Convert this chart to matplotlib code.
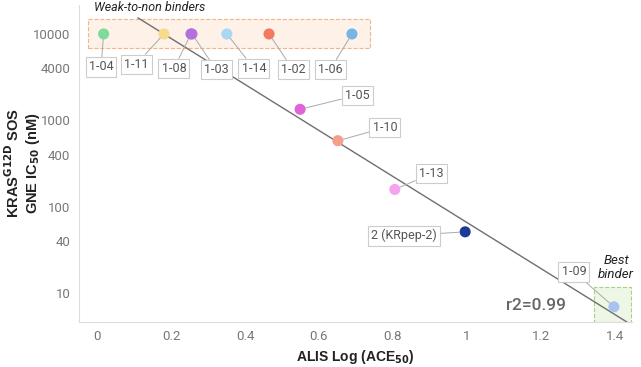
# ALIS Log(ACE50) と KRAS G12D SOS GNE IC50 の関係

import matplotlib
matplotlib.use("Agg")
import matplotlib.pyplot as plt
from matplotlib.patches import Rectangle
import numpy as np

# データ
names = ["1-04", "1-11", "1-03", "1-08", "1-14", "1-02", "1-06",
         "1-05", "1-10", "1-13", "2 (KRpep-2)", "1-09"]
alis = [0.018, 0.181, 0.257, 0.254, 0.351, 0.465, 0.689,
        0.549, 0.651, 0.805, 0.995, 1.397]
ic50 = [10000, 10000, 10000, 10000, 10000, 10000, 10000,
        1340, 580, 158, 51, 6.9]
colors = ["#7fdb9c", "#f6dc8c", "#c07ee0", "#b46ee0", "#a9d8f4", "#f27a5e", "#74b6e6",
          "#e163d9", "#f2a089", "#f5a3ef", "#1d3a99", "#a9c3f1"]
# ラベル位置 (x, IC50)
label_x = [0.011, 0.106, 0.322, 0.208, 0.424, 0.530, 0.630,
           0.703, 0.778, 0.903, 0.830, 1.289]
label_y = [4150, 4450, 3850, 4000, 4000, 3850, 3850,
           1950, 820, 240, 46, 17.5]

# 回帰直線 log10(y) = a*x + b
fit_a, fit_b = -2.667, 4.482
fit_x = [0.111, 1.432]

plt.rcParams["font.family"] = ["Roboto", "DejaVu Sans"]
plt.rcParams["mathtext.fontset"] = "dejavusans"

fig = plt.figure(figsize=(6.41, 3.67), dpi=100)
ax = fig.add_axes([0.123, 0.1226, 0.863, 0.864])
ax.set_yscale("log")
ax.set_xlim(-0.049, 1.446)
ax.set_ylim(4.6, 21700)

# 枠
ax.add_patch(Rectangle((-0.024, 6870), 0.762, 14900 - 6870, fc="#fdf1e8",
                       ec="#f4b48a", ls="--", lw=0.8, zorder=1))
ax.add_patch(Rectangle((1.343, 4.6), 0.1, 11.7 - 4.6, fc="#eef7e6",
                       ec="#a8d08a", ls="--", lw=0.8, zorder=1))

# 回帰直線
fx = np.array(fit_x)
ax.plot(fx, 10 ** (fit_a * fx + fit_b), color="#6f6f6f", lw=1, zorder=2)

ax.scatter(alis, ic50, s=64, c=colors, zorder=3, linewidths=0)

for n, x, y, lx, ly in zip(names, alis, ic50, label_x, label_y):
    ax.annotate(n, xy=(x, y), xytext=(lx, ly), ha="center", va="center",
                fontsize=9, color="#555555", zorder=4,
                bbox=dict(boxstyle="square,pad=0.25", fc="white", ec="#cccccc", lw=0.8),
                arrowprops=dict(arrowstyle="-", color="#aaaaaa", lw=0.7,
                                shrinkA=0, shrinkB=4))

ax.text(0.143, 20000, "Weak-to-non binders", style="italic", fontsize=9,
        ha="center", va="center", color="#222222", clip_on=False)
ax.text(1.403, 19.6, "Best\nbinder", style="italic", fontsize=9.5, ha="center",
        va="center", color="#222222", linespacing=1.1)
ax.text(1.187, 7.1, "r2=0.99", fontsize=12.5, ha="center", va="center",
        color="#666666", fontweight="medium")

# 軸
yt = [10, 40, 100, 400, 1000, 4000, 10000]
ax.set_yticks(yt)
ax.set_yticklabels([str(v) for v in yt])
ax.minorticks_off()
xt = [0, 0.2, 0.4, 0.6, 0.8, 1, 1.2, 1.4]
ax.set_xticks(xt)
ax.set_xticklabels(["0", "0.2", "0.4", "0.6", "0.8", "1", "1.2", "1.4"])
ax.tick_params(length=0, colors="#777777", labelsize=9.5, pad=6)
for s in ["top", "right"]:
    ax.spines[s].set_visible(False)
for s in ["left", "bottom"]:
    ax.spines[s].set_color("#dddddd")

ax.set_xlabel(r"ALIS Log (ACE$_{\mathbf{50}}$)", fontweight="bold", fontsize=10,
              family=["Liberation Sans", "DejaVu Sans"], color="#222222")
ax.xaxis.set_label_coords(0.5, -0.083)
ax.set_ylabel("KRAS$^{\\mathbf{G12D}}$ SOS\nGNE IC$_{\\mathbf{50}}$ (nM)", fontweight="bold",
              fontsize=10.5, family=["Liberation Sans", "DejaVu Sans"], color="#222222",
              linespacing=1.2)
ax.yaxis.set_label_coords(-0.066, 0.5)

fig.savefig("out.png", dpi=100)
